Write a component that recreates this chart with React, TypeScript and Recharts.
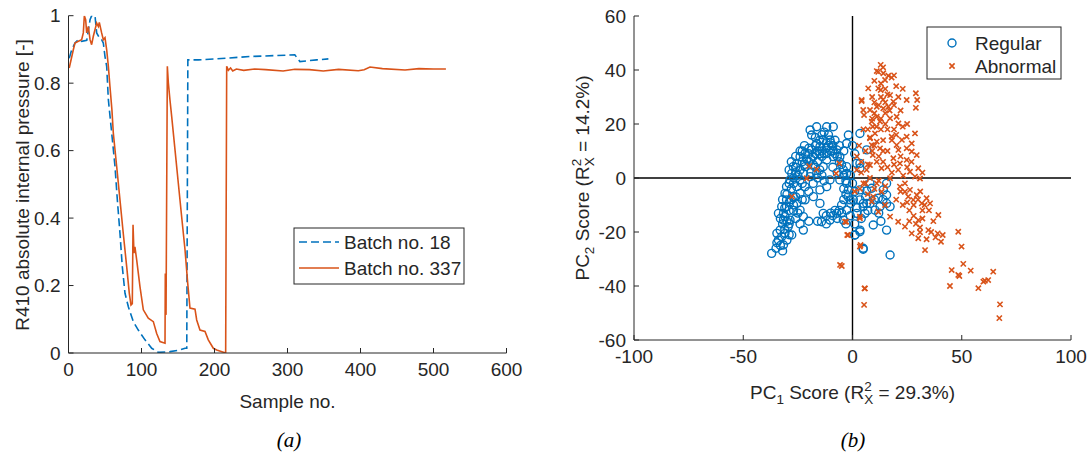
import React from 'react';
import { LineChart, Line, XAxis, YAxis, ScatterChart, Scatter, ReferenceLine } from 'recharts';

const BLUE = '#0072BD';
const ORANGE = '#D95319';
const INK = '#262626';
const FONT = '"Liberation Sans", Arial, sans-serif';
const FS = 19;

const sampleTicks = [0, 100, 200, 300, 400, 500, 600];
const pressureTicks = [0, 0.2, 0.4, 0.6, 0.8, 1];
const pc1Ticks = [-100, -50, 0, 50, 100];
const pc2Ticks = [-60, -40, -20, 0, 20, 40, 60];

// Batch no. 18 : [sample no., pressure]
const batch18: [number, number][] = [
  [1, 0.874], [4.4, 0.899], [8.9, 0.919], [13.5, 0.929], [18, 0.924], [25, 0.927], [29.5, 0.988],
  [31.7, 1.0], [36.3, 1.0], [38.6, 0.949], [42.2, 0.935], [45.4, 0.929], [47.7, 0.919], [50, 0.879],
  [52.3, 0.85], [54.6, 0.751], [59.2, 0.652], [63.7, 0.553], [66.9, 0.454], [70.5, 0.355],
  [73.7, 0.256], [77.4, 0.177], [82, 0.137], [88.8, 0.093], [95.6, 0.068], [104.8, 0.039],
  [114, 0.014], [123, 0.002], [139, 0.004], [152.7, 0.009], [159.6, 0.014], [162, 0.014],
  [163.5, 0.869], [178, 0.869], [203, 0.872], [248.6, 0.879], [310, 0.884], [317, 0.864],
  [340, 0.869], [356, 0.872],
];

// Batch no. 337 : [sample no., pressure]
const batch337: [number, number][] = [
  [1, 0.845], [6.6, 0.899], [8.9, 0.919], [13.5, 0.924], [18, 0.929], [20.3, 0.949], [21.7, 1.0],
  [23.5, 0.988], [24.9, 0.949], [27.2, 0.968], [29.5, 0.929], [31.7, 0.914], [34, 0.939],
  [38.6, 0.978], [40.9, 0.968], [42.2, 0.98], [45.4, 0.949], [47.7, 0.929], [50, 0.935],
  [52.3, 0.899], [54.6, 0.85], [56.8, 0.79], [59.5, 0.72], [61.4, 0.652], [66, 0.553],
  [70.5, 0.454], [75, 0.355], [79.7, 0.256], [83.3, 0.177], [85.6, 0.142], [87.4, 0.146],
  [88.4, 0.38], [89.7, 0.296], [91, 0.315], [93.4, 0.276], [97.9, 0.197], [102.5, 0.128],
  [109.3, 0.103], [116.2, 0.093], [120.8, 0.058], [125.3, 0.034], [132.2, 0.029], [132.6, 0.236],
  [133.6, 0.113], [135.4, 0.85], [136.8, 0.8], [139, 0.75], [141.4, 0.7], [145.9, 0.602],
  [150.4, 0.504], [155, 0.404], [159.6, 0.306], [163.3, 0.207], [166.4, 0.133], [173.3, 0.13],
  [175.6, 0.098], [180.1, 0.068], [187, 0.064], [191.5, 0.039], [198.4, 0.014], [203, 0.009],
  [215.3, 0], [216.7, 0.85], [219, 0.838], [222, 0.845], [225, 0.836], [230, 0.842], [240, 0.838],
  [255, 0.842], [270, 0.84], [294, 0.836], [310, 0.841], [330, 0.84], [349, 0.836], [370, 0.841],
  [397, 0.837], [405, 0.84], [413, 0.848], [430, 0.843], [461, 0.839], [480, 0.843], [500, 0.842],
  [517, 0.842],
];

// Regular batches : [PC1, PC2]
const regular: [number, number][] = [
  [-37, -27.9], [-33.9, -23], [-32.4, -21.7], [-30.9, -20.5], [-31.6, -24.8], [-33.9, -13.1],
  [-31.6, -15.6], [-27.8, -21.1], [-22.5, -19.3], [-32.4, -10.6], [-30.9, -5.7], [-30.2, -3.2],
  [-28.6, -0.7], [-27.8, 1.7], [-27.1, 4.2], [-25.5, 5.4], [-24, 7.9], [-21.7, 9.1], [-18.7, 10.4],
  [-16.4, 12.8], [-14.9, 11.6], [-13.4, 14.1], [-10.3, 14.1], [-8.8, 19], [-11.8, 19], [-16.4, 19],
  [-19.4, 17.8], [-18.7, 15.9], [-7.2, 10.4], [-5.8, 7.9], [-1.9, 15.9], [-2.7, 12.8], [3.4, 16.5],
  [6.5, 10.4], [3.4, 5.4], [-2.7, 4.2], [-4.2, 3], [-5.8, -0.7], [-10.3, -0.7], [-11.8, -3.2],
  [-14.9, -4.4], [-17.9, -6.9], [-14.9, -9.4], [-13.4, -13.1], [-10.3, -15.6], [-14.2, -16.2],
  [-7.2, -13.1], [-4.2, -15.6], [-2.7, -11.9], [-1.1, -8.1], [-1.9, -4.4], [-2.7, -2], [0.4, -8.1],
  [1.9, -13.1], [4.9, -10.6], [8, -9.4], [1.1, -21.1], [4.9, -26], [3.4, -19.3], [-27.1, -6.9],
  [-25.5, -9.4], [-24, -11.9], [-22.5, -14.3], [-30.2, -10.6], [-29.4, -18], [-33.1, -19.3],
  [-21.7, -3.2], [-19.4, 0.5], [-16.4, 1.7], [-13.4, 4.2], [-11.8, 6.7], [-8.8, 7.9], [-11.8, 9.1],
  [-21.7, 4.2], [-22.5, 1.7], [-24, -0.7], [-25.5, -3.2], [-24, -5.7], [-21.7, -8.1], [-30.2, -8.1],
  [-31.6, -13.1], [-30.9, -14.3], [-28.6, -15.6], [-34.6, -24], [-34.6, -20.5],
  [1.9, 5.4], [3.4, 3.6], [-2.7, 1.7], [8, -2], [15.6, -2], [15.6, -6.3], [15.6, -9.4], [17.2, -10.6],
  [12.6, -10.6], [10.3, -11.9], [6.5, -9.4], [5, -9.4], [5.7, -13.1], [9.5, -17.4], [3.4, -19.9],
  [1.1, -21.1], [4.9, -26.4], [15.6, -19.3], [17.2, -28.5], [3.4, -8.1], [-0.8, -9.4], [3.4, -4.4],
  [6.5, -4.8], [8.8, -3.8], [14.1, -4.4], [11.8, -7.5],
  [-20, 6], [-18, 8], [-16, 6], [-14, 8], [-12, 11], [-10, 10], [-9, 12], [-15, 3], [-17, 4],
  [-19, 2], [-26, 2], [-27, -2], [-23, -2], [-28, -4], [-26, -7], [-29, -9], [-27, -12], [-32, -8],
  [-29, -17], [-26, -15], [-23, 10], [-20, 11], [-17, 12], [-14, 16], [-11, 16], [-8, 14], [-6, 12],
  [-4, 10], [-9, 4], [-7, 2], [-3, -6], [-6, -12], [-9, -14], [-12, -17], [-1, 1], [0, -2], [1, -5],
  [-1, -14], [-3, -17], [-5, -10],
  [-35, -26], [-33, -25], [-32, -27], [-30, -23], [-29, -21], [-31, -19], [-32, -17], [-30, -16],
  [-33, -15], [-31, -11], [-29, -12], [-30, -6], [-28, -8], [-29, -2], [-27, 0], [-26, 4], [-25, 1],
  [-24, 3], [-23, 6], [-22, 5], [-21, 7], [-20, 9], [-19, 7], [-18, 5], [-17, 9], [-16, 10],
  [-15, 9], [-14, 10], [-13, 9], [-12, 13], [-11, 12], [-10, 13], [-9, 10], [-8, 9], [-7, 8],
  [-6, 6], [-5, 5], [-4, 1], [-3, -1], [-4, -4], [-2, -7], [-4, -8], [-5, -13], [-7, -15],
  [-8, -12], [-10, -13], [-12, -14], [-16, -16], [-20, -16], [-24, -17], [-25, -13], [-27, -10],
  [-23, -8], [-20, -5], [-18, -2], [-16, 0], [-14, 1], [-13, -1], [-22, 12], [-24, 10], [-26, 8],
  [-28, 6], [-29, 3], [-17, 15], [-15, 14], [-13, 17], [2, -11], [4, -15], [7, -12], [10, -8],
  [12, -13], [14, -8], [13, -16], [1, -17], [6, -7], [0, 12], [1, 9],
];

// Abnormal batches : [PC1, PC2]
const abnormal: [number, number][] = [
  [12.9, 41.9], [11.1, 39.6], [14.1, 38.8], [16.4, 37.9], [17.9, 37.2], [14.9, 36.3], [11.8, 33.2],
  [12.9, 32.6], [29, 31.4], [29.6, 28.9], [24.8, 28.9], [4.2, 28.5], [17.2, 30.7], [18.7, 28.3],
  [16.4, 26.4], [14.1, 25.8], [11.1, 26.4], [8, 25.2], [4.9, 25.2], [5.3, 23.3], [11.1, 22.7],
  [12.6, 20.9], [8.8, 20.9], [17.2, 22.1], [20.2, 22.7], [21, 20.2], [9.3, 19], [10.3, 16.5],
  [8, 14.7], [8.8, 12.2], [11.1, 13.5], [12.6, 11], [9.3, 8.5], [11.1, 6], [8, 4.8], [6.5, 3],
  [13.3, 3.6], [17.9, 15.3], [20.2, 12.2], [22.6, 14.1], [21, 10.4], [24.8, 15.3], [28.6, 16.5],
  [27.1, 12.8], [24.8, 11], [27.1, 9.8], [29.4, 8.5], [18.7, 7.3], [24.8, 6.7], [21.7, 5.4],
  [30.1, 3.6], [20.9, 3], [26.3, 2.3], [28.6, 0.5], [23.2, 0.9], [30.9, -0.2], [29, 26],
  [21.7, -3.2], [24, -5.1], [25.5, -6.9], [26.3, -4.4], [27.8, -8.1], [29.4, -6.3], [31.7, -9.4],
  [33.9, -7.5], [35.5, -9.4], [39.3, -13.7], [30.1, -15.6], [20.9, -16.2], [34.7, -19.3],
  [30.9, -18.3], [27.1, -20.5], [30.1, -22.3], [33.9, -22.7], [30.9, -20.1], [33.2, -26.7],
  [39, -20.5], [41.3, -21.1], [40.5, -23.6], [48.4, -19.9], [45.4, -34.1], [48.4, -35.9],
  [44.6, -40], [5.5, -40.9], [5.3, -47], [-4.9, -32.6], [-2, -21.1], [3.7, -24.8], [-2.9, -16.2],
  [3.4, -14.3], [9.5, -6.9], [13.3, -5.1], [11.8, -12.5], [17.2, -14.3], [11.1, -2], [17.2, -0.1],
  [5, -2], [3.4, -4], [8.8, -8.7], [14.9, -10],
  [49.9, -25.4], [50.7, -31.8], [48.9, -36.3], [54.1, -34.3], [57.6, -40.8], [59.9, -38.4],
  [60.6, -38], [62.1, -37.8], [64.4, -34.7], [67.5, -46.8], [67.2, -51.9],
  [-19.8, 4.4], [-16.4, 3.2], [-21, -0.1], [-27.8, -6.9], [-6, 5.4], [-7.5, 1.7], [-3.4, -16.2],
  [-2.4, -21.1], [-5.7, -32.2], [3.4, -25.4], [5.7, -40.9], [3.4, -14.9], [4.2, 28.9],
  [7.2, 33.2], [11.8, 39.3],
  [2, 8], [4, 2], [6, -2], [1, -5], [7, 5], [3, 12], [8, 15], [5, 18], [13, 18], [15, 20], [14, 14],
  [16, 10], [19, 18], [22, 25], [10, 28], [13, 30], [15, 33], [9, 10], [14, 6], [18, 2], [12, -1],
  [15, -3], [20, -8], [23, -10], [26, -12], [32, -12], [35, -12], [37, -16], [28, -14], [24, -2],
  [32, 2], [25, 20], [20, 34], [23, 19],
  [10, 24], [12, 27], [14, 29], [16, 31], [13, 35], [10, 36], [9, 22], [11, 19], [13, 22], [15, 24],
  [17, 25], [19, 27], [16, 18], [18, 14], [20, 16], [7, 18], [6, 10], [10, 12], [12, 8], [14, 10],
  [16, 4], [19, 5], [22, 8], [25, 4], [27, 6], [22, -5], [25, -9], [28, -10], [30, -8], [33, -10],
  [31, -5], [26, -16], [24, -18], [29, -17], [32, -15], [36, -20], [38, -22], [8, 0], [10, -4],
  [7, -6], [4, 6], [2, 3], [9, 30], [15, 28], [21, 30], [23, 33], [19, 38], [14, 41],
];

const toXY = (arr: [number, number][]) => arr.map(([x, y]) => ({ x, y }));

const textStyle = { fontFamily: FONT, fontSize: FS, fill: INK };

type Side = 'bottom' | 'left' | 'top' | 'right';
function makeTick(side: Side, margin: number, showLabel: boolean) {
  return (props: any) => {
    const { x, y, payload } = props;
    const label = String(payload.value);
    const L = 5;
    if (side === 'bottom') {
      const e = y - margin;
      return (
        <g>
          <line x1={x} x2={x} y1={e} y2={e - L} stroke={INK} strokeWidth={1} />
          {showLabel && (
            <text x={x} y={y} dy="0.71em" textAnchor="middle" style={textStyle}>{label}</text>
          )}
        </g>
      );
    }
    if (side === 'top') {
      const e = y + margin;
      return <line x1={x} x2={x} y1={e} y2={e + L} stroke={INK} strokeWidth={1} />;
    }
    if (side === 'left') {
      const e = x + margin;
      return (
        <g>
          <line x1={e} x2={e + L} y1={y} y2={y} stroke={INK} strokeWidth={1} />
          {showLabel && (
            <text x={x} y={y} dy="0.35em" textAnchor="end" style={textStyle}>{label}</text>
          )}
        </g>
      );
    }
    const e = x - margin;
    return <line x1={e} x2={e - L} y1={y} y2={y} stroke={INK} strokeWidth={1} />;
  };
}

const CircleShape = (p: any) => (
  <circle cx={p.cx} cy={p.cy} r={4} fill="none" stroke={BLUE} strokeWidth={1.4} />
);
const CrossShape = (p: any) => {
  const s = 2.6;
  return (
    <path
      d={`M${p.cx - s},${p.cy - s}L${p.cx + s},${p.cy + s}M${p.cx - s},${p.cy + s}L${p.cx + s},${p.cy - s}`}
      stroke={ORANGE}
      strokeWidth={1.6}
      fill="none"
    />
  );
};

const axisLine = { stroke: INK, strokeWidth: 1 };
const DASH = '8 4';

function PressureChart() {
  return (
    <LineChart width={540} height={457} margin={{ top: 15.7, right: 33.5, bottom: 74, left: 8.5 }}>
      <XAxis
        type="number" dataKey="x" domain={[0, 600]} ticks={sampleTicks} interval={0}
        height={30} tickSize={0} tickMargin={10} axisLine={axisLine} tickLine={false}
        tick={makeTick('bottom', 10, true)} allowDataOverflow
      />
      <XAxis
        xAxisId="top" orientation="top" type="number" dataKey="x" domain={[0, 600]} ticks={sampleTicks}
        interval={0} height={0} tickSize={0} tickMargin={0} axisLine={axisLine} tickLine={false}
        tick={makeTick('top', 0, false)}
      />
      <YAxis
        type="number" domain={[0, 1]} ticks={pressureTicks} interval={0} width={60} tickSize={0}
        tickMargin={8} axisLine={axisLine} tickLine={false} tick={makeTick('left', 8, true)}
        allowDataOverflow
      />
      <YAxis
        yAxisId="right" orientation="right" type="number" domain={[0, 1]} ticks={pressureTicks}
        interval={0} width={0} tickSize={0} tickMargin={0} axisLine={axisLine} tickLine={false}
        tick={makeTick('right', 0, false)}
      />
      <Line
        data={toXY(batch18)} dataKey="y" type="linear" stroke={BLUE} strokeWidth={1.6}
        strokeDasharray={DASH} dot={false} isAnimationActive={false}
      />
      <Line
        data={toXY(batch337)} dataKey="y" type="linear" stroke={ORANGE} strokeWidth={1.6}
        dot={false} isAnimationActive={false}
      />
    </LineChart>
  );
}

function ScoreChart() {
  return (
    <ScatterChart width={549} height={457} margin={{ top: 16, right: 18, bottom: 87, left: 34 }}>
      <XAxis
        type="number" dataKey="x" domain={[-100, 100]} ticks={pc1Ticks} interval={0} height={30}
        tickSize={0} tickMargin={10} axisLine={axisLine} tickLine={false}
        tick={makeTick('bottom', 10, true)} allowDataOverflow
      />
      <XAxis
        xAxisId="top" orientation="top" type="number" dataKey="x" domain={[-100, 100]} ticks={pc1Ticks}
        interval={0} height={0} tickSize={0} tickMargin={0} axisLine={axisLine} tickLine={false}
        tick={makeTick('top', 0, false)}
      />
      <YAxis
        type="number" dataKey="y" domain={[-60, 60]} ticks={pc2Ticks} interval={0} width={60}
        tickSize={0} tickMargin={8} axisLine={axisLine} tickLine={false}
        tick={makeTick('left', 8, true)} allowDataOverflow
      />
      <YAxis
        yAxisId="right" orientation="right" type="number" dataKey="y" domain={[-60, 60]} ticks={pc2Ticks}
        interval={0} width={0} tickSize={0} tickMargin={0} axisLine={axisLine} tickLine={false}
        tick={makeTick('right', 0, false)}
      />
      <Scatter data={toXY(regular)} shape={CircleShape} isAnimationActive={false} />
      <Scatter data={toXY(abnormal)} shape={CrossShape} isAnimationActive={false} />
      <ReferenceLine x={0} stroke="#000" strokeWidth={1.4} />
      <ReferenceLine y={0} stroke="#000" strokeWidth={1.4} />
    </ScatterChart>
  );
}

function Overlay() {
  const t = { fontFamily: FONT, fontSize: FS, fill: INK } as React.CSSProperties;
  const small = 13.5;
  const cap = { fontFamily: '"Liberation Serif", "Times New Roman", serif', fontSize: 21, fontStyle: 'italic', fill: '#000' } as React.CSSProperties;
  return (
    <svg width={1089} height={457} style={{ position: 'absolute', left: 0, top: 0, pointerEvents: 'none' }}>
      {/* panel (a) titles */}
      <text x={22} y={185} transform="rotate(-90 22 185)" textAnchor="middle" dy="0.35em" style={t}>
        R410 absolute internal pressure [-]
      </text>
      <text x={287.5} y={401} textAnchor="middle" dy="0.35em" style={t}>Sample no.</text>
      <text x={289} y={440} textAnchor="middle" dy="0.35em" style={cap}>(a)</text>
      {/* legend (a) */}
      <rect x={294} y={228} width={170} height={56} fill="#fff" stroke={INK} strokeWidth={1} />
      <line x1={299} x2={339} y1={242} y2={242} stroke={BLUE} strokeWidth={1.6} strokeDasharray={DASH} />
      <text x={344} y={242} dy="0.35em" style={t}>Batch no. 18</text>
      <line x1={299} x2={339} y1={268} y2={268} stroke={ORANGE} strokeWidth={1.6} />
      <text x={344} y={268} dy="0.35em" style={t}>Batch no. 337</text>

      {/* panel (b) titles */}
      <text x={582} y={178} transform="rotate(-90 582 178)" textAnchor="middle" dy="0.35em" style={t}>
        PC<tspan dy={5} fontSize={small}>2</tspan>
        <tspan dy={-5}> Score (R</tspan>
        <tspan dy={-8} fontSize={small}>2</tspan>
        <tspan dx={-7.5} dy={13} fontSize={small}>X</tspan>
        <tspan dy={-5}> = 14.2%)</tspan>
      </text>
      <text x={852.5} y={392} textAnchor="middle" dy="0.35em" style={t}>
        PC<tspan dy={5} fontSize={small}>1</tspan>
        <tspan dy={-5}> Score (R</tspan>
        <tspan dy={-8} fontSize={small}>2</tspan>
        <tspan dx={-7.5} dy={13} fontSize={small}>X</tspan>
        <tspan dy={-5}> = 29.3%)</tspan>
      </text>
      <text x={853} y={440} textAnchor="middle" dy="0.35em" style={cap}>(b)</text>
      {/* legend (b) */}
      <rect x={927} y={27} width={134} height={52} fill="#fff" stroke={INK} strokeWidth={1} />
      <circle cx={952} cy={43} r={4} fill="none" stroke={BLUE} strokeWidth={1.4} />
      <text x={975} y={43} dy="0.35em" style={t}>Regular</text>
      <path d="M949.4,63.4L954.6,68.6M949.4,68.6L954.6,63.4" stroke={ORANGE} strokeWidth={1.6} />
      <text x={975} y={66} dy="0.35em" style={t}>Abnormal</text>
    </svg>
  );
}

export default function App() {
  return (
    <div style={{ position: 'absolute', left: 0, top: 0, width: 1089, height: 457, background: '#fff', overflow: 'hidden' }}>
      <div style={{ position: 'absolute', left: 0, top: 0 }}>
        <PressureChart />
      </div>
      <div style={{ position: 'absolute', left: 540, top: 0 }}>
        <ScoreChart />
      </div>
      <Overlay />
    </div>
  );
}
